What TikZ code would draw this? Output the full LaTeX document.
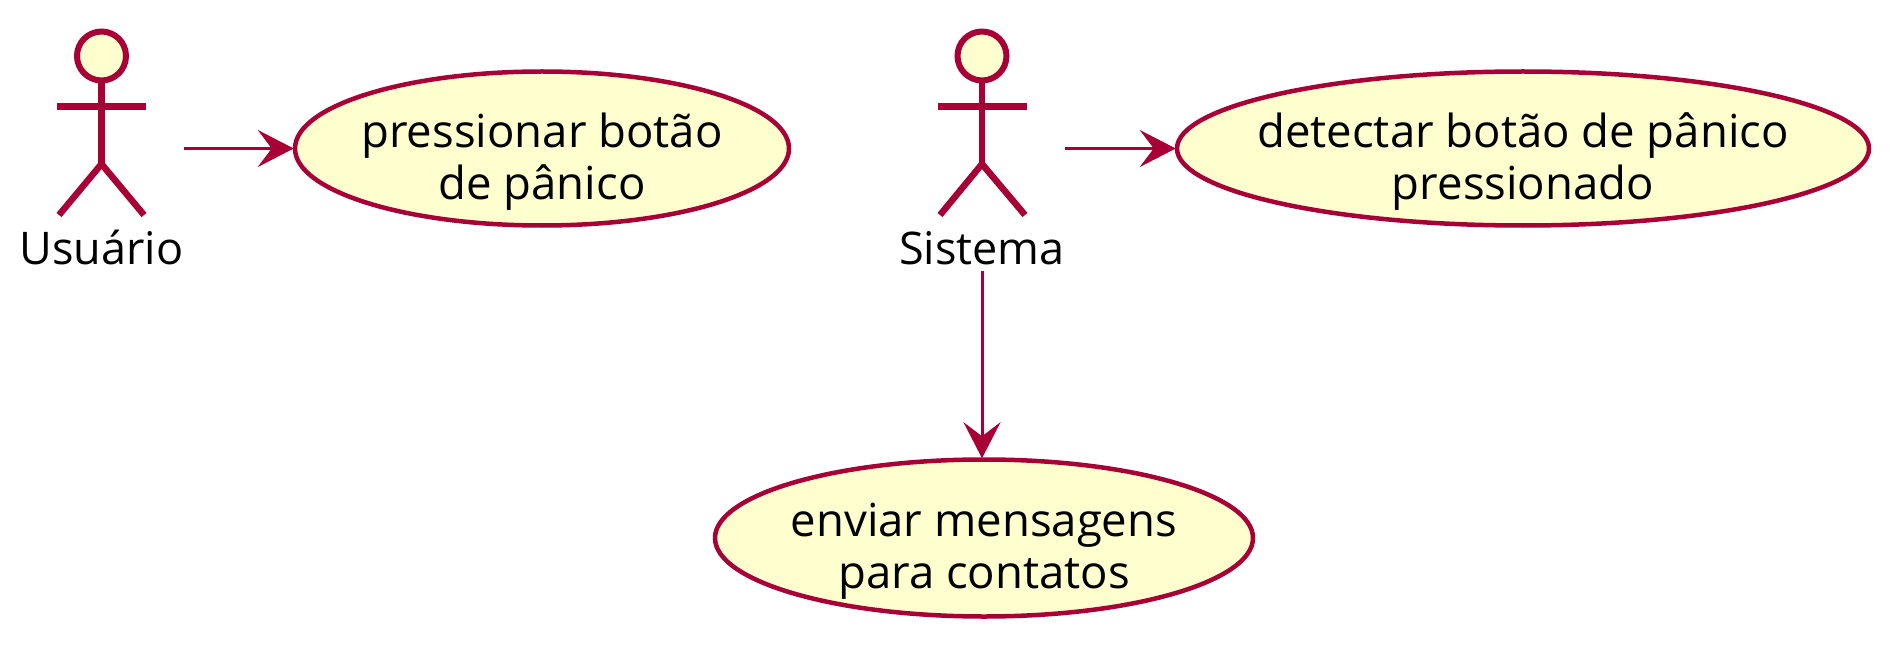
\documentclass[tikz,border=0pt]{standalone}
\usepackage{fontspec}
\setmainfont{Open Sans}
\usetikzlibrary{shapes.geometric,arrows.meta}
\definecolor{umlred}{HTML}{A80036}
\definecolor{umlfill}{HTML}{FEFECE}
\tikzset{
  x=1pt,y=-1pt,
  usecase/.style={ellipse,draw=umlred,fill=umlfill,line width=4.5pt,inner sep=0pt,minimum height=154pt},
  uctext/.style={inner sep=0pt,align=center,yshift=-13pt,font=\fontsize{45.5}{52}\selectfont},
  actorhead/.style={circle,draw=umlred,fill=umlfill,line width=6pt,minimum size=49pt,inner sep=0pt},
  actorline/.style={draw=umlred,line width=6.5pt},
  actorlabel/.style={font=\fontsize{45}{51}\selectfont,inner sep=0pt,anchor=base},
  flow/.style={draw=umlred,line width=3pt,-{Stealth[length=36pt,width=37pt,inset=14pt]},shorten >=-1pt}
}
\begin{document}
\begin{tikzpicture}
\useasboundingbox (0,0) rectangle (1900,647);
% actors
\node[actorhead] (h1) at (101.5,56) {};
\coordinate (arm1l) at (57,106.5); \coordinate (arm1r) at (146,106.5);
\coordinate (hip1) at (101.5,164); \coordinate (leg1l) at (59,215); \coordinate (leg1r) at (144,215);
\draw[actorline] (h1.south) -- (hip1);
\draw[actorline] (arm1l) -- (arm1r);
\draw[actorline] (leg1l) -- (hip1) -- (leg1r);
\node[actorlabel] (u) at (101.5,264) {Usuário};
\coordinate (a1out) at (184,148.5);

\node[actorhead] (h2) at (982,56) {};
\coordinate (arm2l) at (938,106.5); \coordinate (arm2r) at (1027,106.5);
\coordinate (hip2) at (982,164); \coordinate (leg2l) at (940,215); \coordinate (leg2r) at (1025,215);
\draw[actorline] (h2.south) -- (hip2);
\draw[actorline] (arm2l) -- (arm2r);
\draw[actorline] (leg2l) -- (hip2) -- (leg2r);
\node[actorlabel] (s) at (982,264) {Sistema};
\coordinate (a2out) at (1065,148.5);
\coordinate (a2down) at (982,271);
% use cases
\node[usecase,minimum width=494pt] (uc1) at (542,148.5) {};
\node[uctext] (t1) at (uc1) {pressionar botão\\de pânico};
\node[usecase,minimum width=692pt] (uc2) at (1523,148.5) {};
\node[uctext] (t2) at (uc2) {detectar botão de pânico\\pressionado};
\node[usecase,minimum width=538pt,minimum height=157pt] (uc3) at (984,538) {};
\node[uctext] (t3) at (uc3) {enviar mensagens\\para contatos};
% connectors
\draw[flow] (a1out) -- (uc1.west);
\draw[flow] (a2out) -- (uc2.west);
\draw[flow] (a2down) -- (a2down |- uc3.north);
\end{tikzpicture}
\end{document}
